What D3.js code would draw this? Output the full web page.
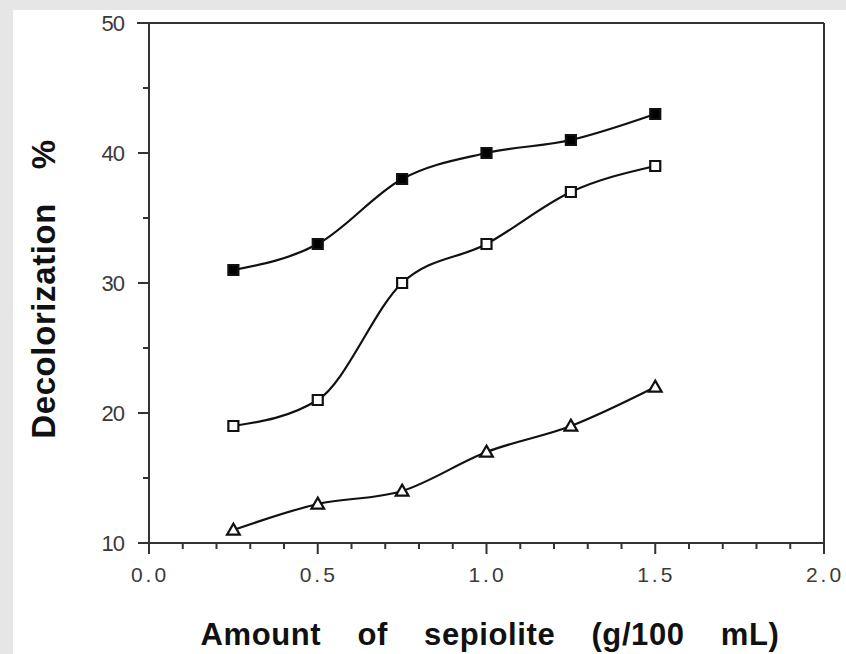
<!DOCTYPE html>
<html>
<head>
<meta charset="utf-8">
<script src="https://cdn.jsdelivr.net/npm/d3@7"></script>
<style>
  body { margin: 0; background: #e6e6e6; }
  svg { display: block; }
</style>
</head>
<body>
<div id="chart"></div>
<script>
// amount of sepiolite (g/100 mL)
var amounts = [0.25, 0.5, 0.75, 1.0, 1.25, 1.5];
var filledSquare = [31, 33, 38, 40, 41, 43];
var openSquare = [19, 21, 30, 33, 37, 39];
var openTriangle = [11, 13, 14, 17, 19, 22];

var xTicks = [0.0, 0.5, 1.0, 1.5, 2.0];
var yTicks = [10, 20, 30, 40, 50];

var width = 846, height = 654;
var svg = d3.select("#chart").append("svg").attr("width", width).attr("height", height);

// white paper area
svg.append("rect").attr("x", 13).attr("y", 10).attr("width", width - 13).attr("height", height - 10).attr("fill", "#fff");

var xScale = d3.scaleLinear().domain([0, 2]).range([149, 824]);
var yScale = d3.scaleLinear().domain([10, 50]).range([543, 23]);

var g = svg.append("g");
var frameColor = "#333";

// frame top and right
g.append("line").attr("x1", 137).attr("x2", xScale(2)).attr("y1", yScale(50)).attr("y2", yScale(50)).attr("stroke", frameColor).attr("stroke-width", 2);
g.append("line").attr("x1", xScale(2)).attr("x2", xScale(2)).attr("y1", yScale(50)).attr("y2", yScale(10)).attr("stroke", frameColor).attr("stroke-width", 2);

// x axis with minor ticks
var xMinor = d3.range(0, 2.0001, 0.1);
var xAxisG = g.append("g").attr("transform", "translate(0," + yScale(10) + ")");
xAxisG.append("line").attr("x1", xScale(0)).attr("x2", xScale(2)).attr("stroke", frameColor).attr("stroke-width", 2);
xAxisG.selectAll("line.minor").data(xMinor).enter().append("line").attr("class", "minor")
  .attr("x1", d => xScale(d)).attr("x2", d => xScale(d)).attr("y1", 0)
  .attr("y2", d => (Math.abs(d * 2 - Math.round(d * 2)) < 1e-6) ? 11 : 6)
  .attr("stroke", frameColor).attr("stroke-width", 2);
xAxisG.selectAll("text").data(xTicks).enter().append("text")
  .attr("x", d => xScale(d) + 1).attr("y", 39).attr("text-anchor", "middle")
  .attr("font-family", "Liberation Sans, Arial, sans-serif").attr("font-size", 21)
  .attr("letter-spacing", 3).attr("fill", "#3a3a3a")
  .text(d => d.toFixed(1));

// y axis with minor ticks
var yMinor = d3.range(10, 50.001, 5);
var yAxisG = g.append("g").attr("transform", "translate(" + xScale(0) + ",0)");
yAxisG.append("line").attr("y1", yScale(10) + 11).attr("y2", yScale(50)).attr("stroke", frameColor).attr("stroke-width", 2);
yAxisG.selectAll("line.minor").data(yMinor).enter().append("line").attr("class", "minor")
  .attr("y1", d => yScale(d)).attr("y2", d => yScale(d)).attr("x1", 0)
  .attr("x2", d => d % 10 === 0 ? -11 : -6)
  .attr("stroke", frameColor).attr("stroke-width", 2);
yAxisG.selectAll("text").data(yTicks).enter().append("text")
  .attr("x", -25).attr("y", d => yScale(d)).attr("dy", "0.35em").attr("text-anchor", "end")
  .attr("font-family", "Liberation Sans, Arial, sans-serif").attr("font-size", 22)
  .attr("letter-spacing", -1).attr("fill", "#3a3a3a")
  .text(d => d);

// axis titles
svg.append("text").attr("x", 490).attr("y", 645).attr("text-anchor", "middle")
  .attr("font-family", "Liberation Sans, Arial, sans-serif").attr("font-weight", "bold").attr("font-size", 31)
  .attr("letter-spacing", 0.6).attr("word-spacing", 27).attr("fill", "#111")
  .text("Amount of sepiolite (g/100 mL)");
svg.append("text").attr("transform", "translate(55,289) rotate(-90)").attr("text-anchor", "middle")
  .attr("font-family", "Liberation Sans, Arial, sans-serif").attr("font-weight", "bold").attr("font-size", 33)
  .attr("letter-spacing", 0.6).attr("word-spacing", 24).attr("fill", "#111")
  .text("Decolorization %");

// series
var line = d3.line().curve(d3.curveMonotoneX).x(d => xScale(d[0])).y(d => yScale(d[1]));
function series(values, marker) {
  var pts = amounts.map((a, i) => [a, values[i]]);
  g.append("path").attr("d", line(pts)).attr("fill", "none").attr("stroke", "#111").attr("stroke-width", 2.2);
  var sym = marker === "triangle" ? d3.symbolTriangle : d3.symbolSquare;
  var size = marker === "triangle" ? 70 : 100;
  g.selectAll(null).data(pts).enter().append("path")
    .attr("transform", d => "translate(" + xScale(d[0]) + "," + (yScale(d[1]) + (marker === "triangle" ? 1 : 0)) + ")")
    .attr("d", d3.symbol().type(sym).size(size))
    .attr("fill", marker === "filled" ? "#000" : "#fff")
    .attr("stroke", "#111").attr("stroke-width", 2.2);
}
series(filledSquare, "filled");
series(openSquare, "open");
series(openTriangle, "triangle");
</script>
</body>
</html>
